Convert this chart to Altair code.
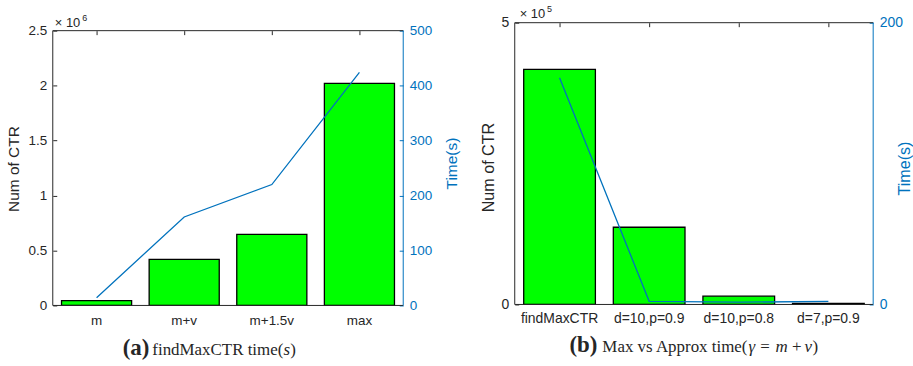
import altair as alt
import pandas as pd

# ---------------- data ----------------
cats_a = ["m", "m+v", "m+1.5v", "max"]
ctr_a = [0.043, 0.42, 0.646, 2.02]          # Num of CTR (x10^6)
time_a = [14, 161, 220, 424]                # Time (s)

cats_b = ["findMaxCTR", "d=10,p=0.9", "d=10,p=0.8", "d=7,p=0.9"]
ctr_b = [4.17, 1.37, 0.147, 0.02]           # Num of CTR (x10^5)
time_b = [161, 2.2, 1.6, 2.2]               # Time (s)

ticks_a_ctr = [0, 0.5, 1, 1.5, 2, 2.5]
ticks_a_time = [0, 100, 200, 300, 400, 500]
ticks_b_ctr = [0, 5]
ticks_b_time = [0, 200]

SANS = "Liberation Sans"
SERIF = "Liberation Serif"
BLUE = "#0072BD"
GREEN = "#00FF00"
INK = "#262626"
LBL = "'' + datum.value"


def txt(s, x, y, size, font=SANS, weight="normal", style="normal",
        align="left", color=INK):
    return alt.Chart(pd.DataFrame({"t": [s]})).mark_text(
        align=align, baseline="alphabetic", font=font, fontSize=size,
        fontWeight=weight, fontStyle=style, color=color
    ).encode(x=alt.value(x), y=alt.value(y), text="t:N")


def panel(cats, ctr, time, W, H, rng, ctr_dom, time_dom, ctr_ticks, time_ticks,
          tick_fs, title_fs, xpad, ltx, lty, rtx, rty, extras):
    df = pd.DataFrame({"cat": cats, "ctr": ctr, "time": time})
    xscale = alt.Scale(paddingInner=0.2, paddingOuter=0.1)
    top_px = rng[1]

    bars = alt.Chart(df).mark_bar(color=GREEN, stroke="black", strokeWidth=1.3).encode(
        x=alt.X("cat:N", sort=cats, scale=xscale,
                axis=alt.Axis(orient="bottom", title=None, labelAngle=0, domain=False,
                              ticks=False, labelPadding=xpad, labelFont=SANS,
                              labelFontSize=tick_fs, labelColor=INK)),
        y=alt.Y("ctr:Q",
                scale=alt.Scale(domain=ctr_dom, range=rng, nice=False, zero=False),
                axis=alt.Axis(orient="left", values=ctr_ticks, labelExpr=LBL, offset=-4,
                              tickSize=4, tickColor=INK, domain=False, grid=False,
                              labelPadding=6, labelFont=SANS, labelFontSize=tick_fs,
                              labelColor=INK, title="Num of CTR", titleFont=SANS,
                              titleFontSize=title_fs, titleFontWeight="normal",
                              titleColor=INK, titleAngle=270, titleAlign="center",
                              titleBaseline="middle", titleX=ltx, titleY=lty)),
    )

    line = alt.Chart(df).mark_line(color=BLUE, strokeWidth=1.3).encode(
        x=alt.X("cat:N", sort=cats, scale=xscale,
                axis=alt.Axis(orient="top", title=None, labels=False, domain=False,
                              ticks=True, tickSize=4, tickColor=INK,
                              offset=-(top_px + 4))),
        y=alt.Y("time:Q",
                scale=alt.Scale(domain=time_dom, range=rng, nice=False, zero=False),
                axis=alt.Axis(orient="right", values=time_ticks, labelExpr=LBL, offset=-4,
                              tickSize=4, tickColor=BLUE, domain=False, grid=False,
                              labelPadding=6, labelFont=SANS, labelFontSize=tick_fs,
                              labelColor=BLUE, title="Time(s)", titleFont=SANS,
                              titleFontSize=title_fs, titleFontWeight="normal",
                              titleColor=BLUE, titleAngle=270, titleAlign="center",
                              titleBaseline="middle", titleX=rtx, titleY=rty)),
    )

    one = pd.DataFrame({"k": [0]})

    def ydat(v):
        return alt.YDatum(v, scale=alt.Scale(domain=ctr_dom, range=rng, nice=False,
                                             zero=False), axis=None)

    def border(color, **enc):
        return alt.Chart(one).mark_rule(color=color, strokeWidth=1).encode(**enc)

    top_b = border(INK, x=alt.value(0), x2=alt.value(W), y=ydat(ctr_dom[1]))
    bot_b = border(INK, x=alt.value(0), x2=alt.value(W), y=ydat(ctr_dom[0]))
    left_b = border(INK, x=alt.value(0), y=ydat(ctr_dom[0]), y2=alt.Y2Datum(ctr_dom[1]))
    right_b = border(BLUE, x=alt.value(W), y=ydat(ctr_dom[0]), y2=alt.Y2Datum(ctr_dom[1]))

    return alt.layer(bars, line, top_b, bot_b, left_b, right_b, *extras).resolve_scale(
        y="independent").resolve_axis(x="independent", y="independent").properties(
        width=W, height=H)


extras_a = [
    txt("× 10", 2, 4.5, 13),
    txt("6", 29.5, -1.5, 9),
    txt("(a)", 97, 333.5, 23, SERIF, "bold", align="right"),
    txt("findMaxCTR time(", 100, 333.5, 17, SERIF),
    txt("s", 231.8, 333.5, 17, SERIF, style="italic"),
    txt(")", 238.4, 333.5, 17, SERIF),
]

extras_b = [
    txt("× 10", 5, -4.7, 13),
    txt("5", 32.5, -10.5, 9),
    txt("(b)", 83, 331, 23, SERIF, "bold", align="right"),
    txt("Max vs Approx time(", 88, 331, 17, SERIF),
    txt("γ", 234.8, 331, 17, SERIF, style="italic"),
    txt("=", 246.5, 331, 17, SERIF),
    txt("m", 262, 331, 17, SERIF, style="italic"),
    txt("+", 278.5, 331, 17, SERIF),
    txt("v", 291, 331, 17, SERIF, style="italic"),
    txt(")", 299, 331, 17, SERIF),
]

pA = panel(cats_a, ctr_a, time_a, 352, 284, [284, 8], [0, 2.5], [0, 500],
           ticks_a_ctr, ticks_a_time, 13.5, 15.5, 8, -43.5, 146.5, 53, 141, extras_a)
pB = panel(cats_b, ctr_b, time_b, 360, 284, [283, 0], [0, 5], [0, 200],
           ticks_b_ctr, ticks_b_time, 14, 16.2, 6, -30.3, 145, 35.5, 146, extras_b)

chart = alt.hconcat(pA, pB, spacing=19).properties(
    padding={"left": 6, "top": 4, "right": 0, "bottom": 0},
    background="white",
).configure_view(stroke=None).configure_axis(grid=False)

chart.save("out.html", embed_options={"renderer": "svg", "actions": False})
